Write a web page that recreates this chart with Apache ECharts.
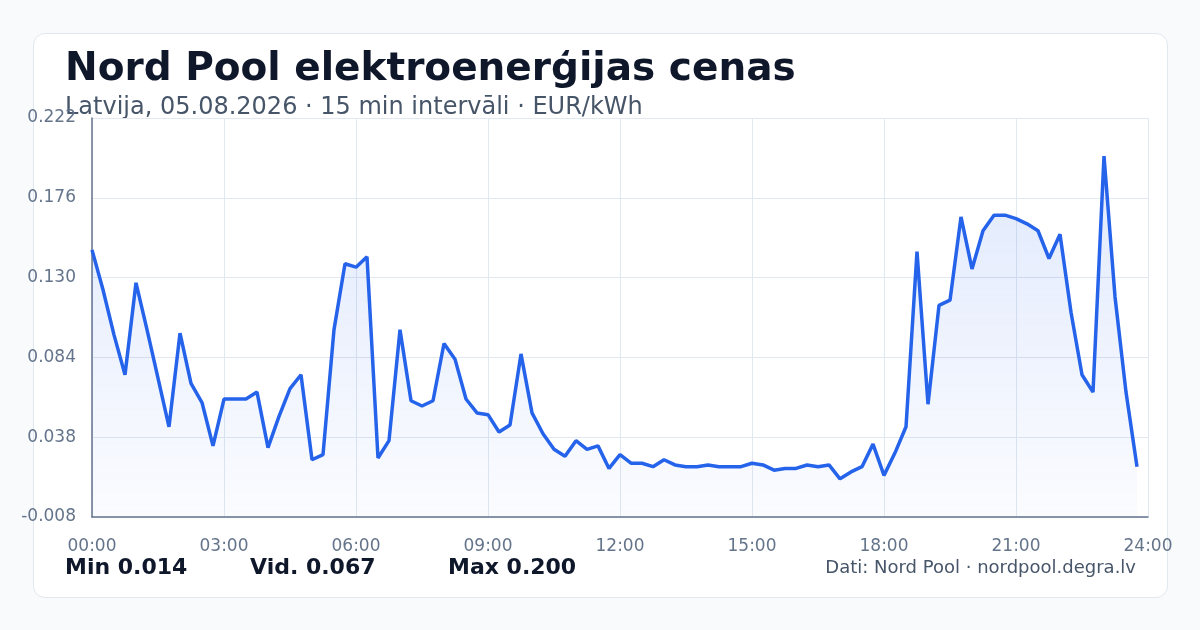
<!DOCTYPE html>
<html lang="lv">
<head>
    <meta charset="UTF-8">
    <title>Nord Pool elektroenerģijas cenas</title>
    <style>
        body {
            margin: 0;
            background-color: #f8fafc;
        }

        #card {
            position: absolute;
            left: 33px;
            top: 33px;
            width: 1133px;
            height: 563px;
            background: #ffffff;
            border: 1px solid #e2e8f0;
            border-radius: 12px;
        }

        #chart {
            position: absolute;
            left: 0;
            top: 0;
            width: 1200px;
            height: 630px;
        }
    </style>
</head>
<body>

    <div id="card"></div>
    <div id="chart"></div>

    <script src="https://cdn.jsdelivr.net/npm/echarts@6/dist/echarts.min.js"></script>
    <script>

        // cenas EUR/kWh, 15 min intervāli (00:00 ... 23:45)
        const prices = [
            0.146, 0.123, 0.097, 0.074, 0.127, 0.100, 0.072, 0.044,
            0.098, 0.069, 0.058, 0.033, 0.060, 0.060, 0.060, 0.064,
            0.032, 0.050, 0.066, 0.074, 0.025, 0.028, 0.100, 0.138,
            0.136, 0.142, 0.026, 0.036, 0.100, 0.059, 0.056, 0.059,
            0.092, 0.083, 0.060, 0.052, 0.051, 0.041, 0.045, 0.086,
            0.052, 0.040, 0.031, 0.027, 0.036, 0.031, 0.033, 0.020,
            0.028, 0.023, 0.023, 0.021, 0.025, 0.022, 0.021, 0.021,
            0.022, 0.021, 0.021, 0.021, 0.023, 0.022, 0.019, 0.020,
            0.020, 0.022, 0.021, 0.022, 0.014, 0.018, 0.021, 0.034,
            0.016, 0.029, 0.044, 0.145, 0.057, 0.114, 0.117, 0.165,
            0.135, 0.157, 0.166, 0.166, 0.164, 0.161, 0.157, 0.141,
            0.155, 0.110, 0.074, 0.064, 0.200, 0.119, 0.064, 0.021
        ];

        // intervāla garums minūtēs
        const stepMinutes = 15;

        // ass iedaļas
        const yTicks = { min: -0.008, max: 0.222, interval: 0.046 };
        const xTicks = { min: 0, max: 1440, interval: 180 };

        // kopsavilkums
        const stats = [
            { label: 'Min', value: '0.014' },
            { label: 'Vid.', value: '0.067' },
            { label: 'Max', value: '0.200' },
        ];

        const font = 'DejaVu Sans';
        const chart = echarts.init(document.getElementById('chart'));

        const pad = n => String(n).padStart(2, '0');

        const option = {
            animation: false,
            textStyle: { fontFamily: font },
            grid: {
                left: 92,
                right: 52,
                top: 118,
                bottom: 113,
            },
            xAxis: {
                type: 'value',
                min: xTicks.min,
                max: xTicks.max,
                interval: xTicks.interval,
                axisLabel: {
                    color: '#64748b',
                    fontSize: 17,
                    margin: 21,
                    formatter: v => pad(Math.floor(v / 60)) + ':' + pad(v % 60),
                },
                axisTick: { show: false },
                axisLine: {
                    show: true,
                    onZero: false,
                    lineStyle: { color: '#64748b', width: 1.5 },
                },
                splitLine: {
                    show: true,
                    lineStyle: { color: '#e2e8f0', width: 1 },
                },
            },
            yAxis: {
                type: 'value',
                min: yTicks.min,
                max: yTicks.max,
                interval: yTicks.interval,
                axisLabel: {
                    color: '#64748b',
                    fontSize: 17,
                    margin: 16,
                    formatter: v => v.toFixed(3),
                },
                axisTick: { show: false },
                axisLine: {
                    show: true,
                    onZero: false,
                    lineStyle: { color: '#64748b', width: 1.5 },
                },
                splitLine: {
                    lineStyle: { color: '#e2e8f0', width: 1 },
                },
            },
            series: [
                {
                    type: 'line',
                    data: prices.map((v, i) => [i * stepMinutes, v]),
                    showSymbol: false,
                    lineStyle: { color: '#2563eb', width: 3.5 },
                    areaStyle: {
                        origin: 'start',
                        color: {
                            type: 'linear',
                            x: 0, y: 0, x2: 0, y2: 1,
                            colorStops: [
                                { offset: 0, color: 'rgba(37, 99, 235, 0.2)' },
                                { offset: 1, color: 'rgba(37, 99, 235, 0.03)' },
                            ],
                        },
                    },
                },
            ],
            graphic: [
                {
                    type: 'text',
                    left: 65,
                    top: 50,
                    style: {
                        text: 'Nord Pool elektroenerģijas cenas',
                        fill: '#0f172a',
                        font: 'bold 39px "DejaVu Sans"',
                    },
                },
                {
                    type: 'text',
                    left: 65,
                    top: 96,
                    style: {
                        text: 'Latvija, 05.08.2026 · 15 min intervāli · EUR/kWh',
                        fill: '#475569',
                        font: '24px "DejaVu Sans"',
                    },
                },
                ...stats.map((s, i) => ({
                    type: 'text',
                    left: [65, 250, 448][i],
                    top: 557,
                    style: {
                        text: s.label + ' ' + s.value,
                        fill: '#0f172a',
                        font: 'bold 22px "DejaVu Sans"',
                    },
                })),
                {
                    type: 'text',
                    right: 64,
                    top: 559,
                    style: {
                        text: 'Dati: Nord Pool · nordpool.degra.lv',
                        fill: '#475569',
                        font: '18px "DejaVu Sans"',
                    },
                },
            ],
        };

        chart.setOption(option);

    </script>
</body>
</html>
